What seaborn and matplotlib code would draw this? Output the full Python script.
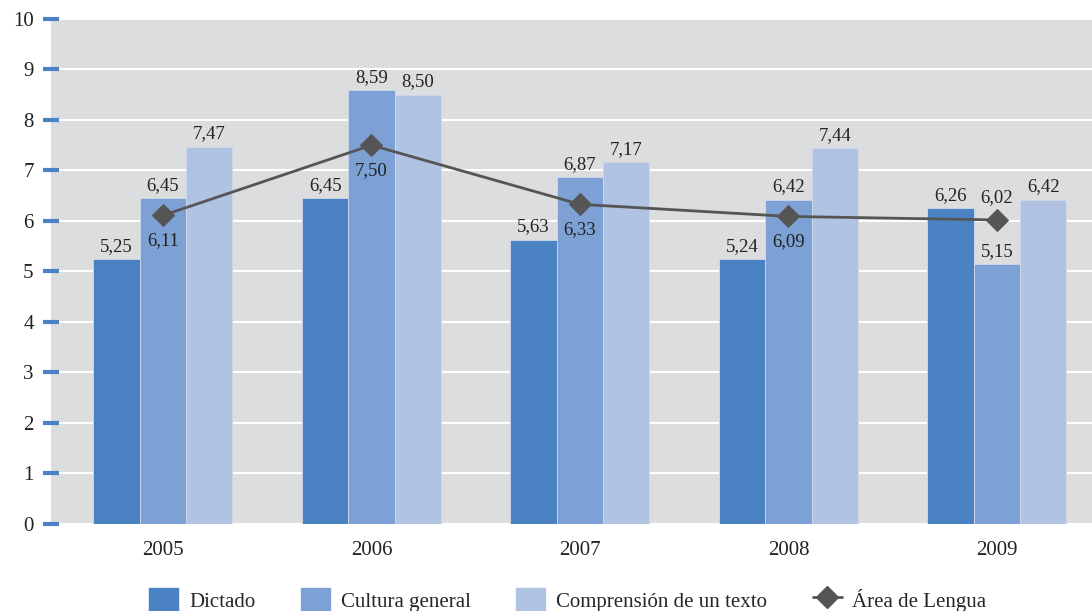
import numpy as np
import pandas as pd
import matplotlib
matplotlib.use("Agg")
import matplotlib.pyplot as plt
import seaborn as sns
from matplotlib.patches import Patch
from matplotlib.lines import Line2D

# Data
years = ["2005", "2006", "2007", "2008", "2009"]
dictado = [5.25, 6.45, 5.63, 5.24, 6.26]
cultura = [6.45, 8.59, 6.87, 6.42, 5.15]
comprension = [7.47, 8.50, 7.17, 7.44, 6.42]
area_lengua = [6.11, 7.50, 6.33, 6.09, 6.02]
series_names = ["Dictado", "Cultura general", "Comprensión de un texto"]
line_name = "Área de Lengua"
colors = ["#4A82C3", "#7DA1D5", "#B0C3E3"]

sns.set_style("white")
plt.rcParams['font.family'] = ['Liberation Serif', 'DejaVu Serif']

df = pd.DataFrame({
    "year": years * 3,
    "serie": [s for s in series_names for _ in years],
    "valor": dictado + cultura + comprension,
})

fig = plt.figure(figsize=(10.92, 6.11), dpi=100)
ax = fig.add_axes([0.0467, 0.1424, 0.9533, 0.8266])
ax.set_facecolor("#DCDDDF")

sns.barplot(data=df, x="year", y="valor", hue="serie", palette=colors,
            width=0.667, saturation=1, ax=ax, legend=False, zorder=2,
            linewidth=0.6, edgecolor="#d0d8e8")

# label bars
for cont in ax.containers:
    vals = [b.get_height() for b in cont]
    ax.bar_label(cont, labels=[f"{v:.2f}".replace(".", ",") for v in vals],
                 padding=3, fontsize=13.5, color="#222222")

# Area de Lengua line
xs = np.arange(len(years))
sns.lineplot(x=xs, y=area_lengua, color="#555555", lw=2, marker="D",
             markersize=11, markeredgecolor="#555555", ax=ax, zorder=4)
for i, v in enumerate(area_lengua):
    if i == 4:
        off = 10
        va = "bottom"
    else:
        off = -12
        va = "top"
    ax.annotate(f"{v:.2f}".replace(".", ","), (xs[i], v), xytext=(0, off),
                textcoords="offset points", ha="center", va=va,
                fontsize=13.5, color="#222222", zorder=5)

ax.set_ylim(0, 10)
ax.set_xlim(-0.537, 4.456)
ax.set_yticks(range(0, 11))
ax.yaxis.grid(True, color="white", lw=1.5, zorder=0)
ax.set_axisbelow(True)
ax.tick_params(axis="y", direction="inout", length=11, width=3,
               color="#4A82C3", labelsize=15, pad=7, left=True)
ax.tick_params(axis="x", length=0, labelsize=15, pad=12)
for lbl in ax.get_yticklabels() + ax.get_xticklabels():
    lbl.set_color("#222222")
ax.set_xlabel("")
ax.set_ylabel("")
for s in ax.spines.values():
    s.set_visible(False)

# legend
handles = [Patch(color=c, label=n) for c, n in zip(colors, series_names)]
handles.append(Line2D([0], [0], color="#555555", lw=2, marker="D",
                      markersize=11, label=line_name))
fig.legend(handles=handles, loc="lower center", ncol=4, frameon=False,
           bbox_to_anchor=(0.52, -0.032), fontsize=15, handlelength=1.4,
           handleheight=1.4, columnspacing=2.2, handletextpad=0.5)

fig.savefig("out.png", dpi=100)
